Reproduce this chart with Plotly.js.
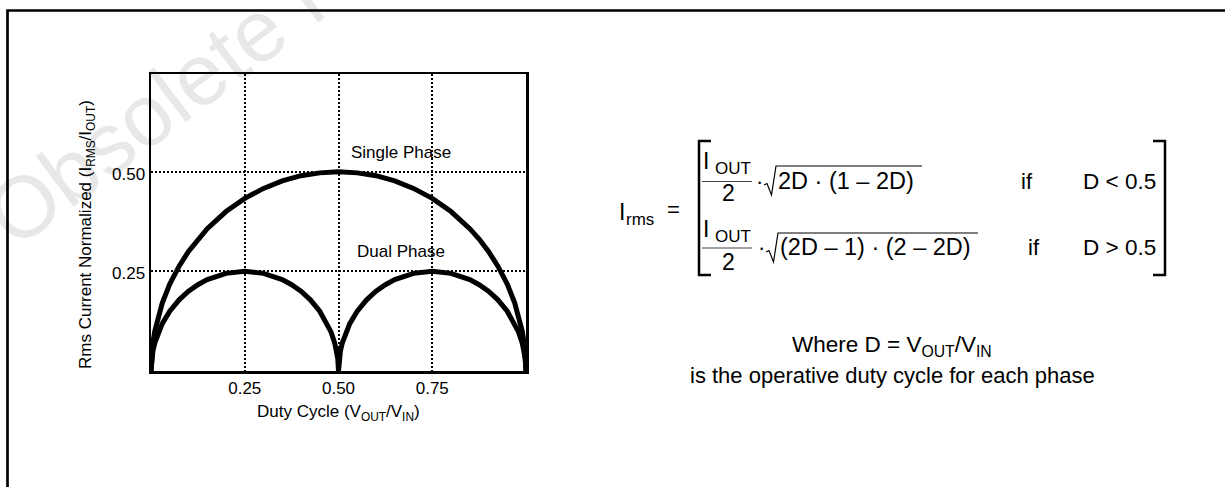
<!DOCTYPE html>
<html>
<head>
<meta charset="utf-8">
<script src="https://cdn.plot.ly/plotly-3.0.1.min.js"></script>
<style>
  html, body { margin: 0; padding: 0; background: #fff; }
  #chart { width: 1225px; height: 487px; }
</style>
</head>
<body>
<div id="chart"></div>
<script>
// ---- data ----
const dutySingle = [0, 0.002, 0.005, 0.01, 0.02, 0.03, 0.05, 0.075, 0.1, 0.125, 0.15, 0.2, 0.25, 0.3, 0.35, 0.4, 0.45, 0.5,
                    0.55, 0.6, 0.65, 0.7, 0.75, 0.8, 0.85, 0.875, 0.9, 0.925, 0.95, 0.97, 0.98, 0.99, 0.995, 0.998, 1];
const singlePhase = [0, 0.0447, 0.0705, 0.0995, 0.14, 0.1706, 0.218, 0.263, 0.3, 0.331, 0.357, 0.4, 0.433, 0.458, 0.477, 0.49, 0.497, 0.5,
                     0.497, 0.49, 0.477, 0.458, 0.433, 0.4, 0.357, 0.331, 0.3, 0.263, 0.218, 0.1706, 0.14, 0.0995, 0.0705, 0.0447, 0];
const dutyDual = [0, 0.002, 0.005, 0.01, 0.02, 0.03, 0.05, 0.075, 0.1, 0.125, 0.15, 0.2, 0.25, 0.3, 0.35, 0.375, 0.4, 0.425, 0.45, 0.47, 0.48, 0.49, 0.495, 0.498, 0.5,
                  0.502, 0.505, 0.51, 0.52, 0.53, 0.55, 0.575, 0.6, 0.625, 0.65, 0.7, 0.75, 0.8, 0.85, 0.875, 0.9, 0.925, 0.95, 0.97, 0.98, 0.99, 0.995, 0.998, 1];
const dualPhase = [0, 0.0316, 0.0497, 0.07, 0.098, 0.1187, 0.15, 0.1785, 0.2, 0.2165, 0.2291, 0.2449, 0.25, 0.2449, 0.2291, 0.2165, 0.2, 0.1785, 0.15, 0.1187, 0.098, 0.07, 0.0497, 0.0316, 0,
                   0.0316, 0.0497, 0.07, 0.098, 0.1187, 0.15, 0.1785, 0.2, 0.2165, 0.2291, 0.2449, 0.25, 0.2449, 0.2291, 0.2165, 0.2, 0.1785, 0.15, 0.1187, 0.098, 0.07, 0.0497, 0.0316, 0];
const xTickVals = [0.25, 0.5, 0.75];
const xTickText = ['0.25', '0.50', '0.75'];
const yTickVals = [0.25, 0.5];
const yTickText = ['0.25', '0.50'];
const seriesNames = ['Single Phase', 'Dual Phase'];

// ---- layout helpers (pixel -> paper) ----
const L = 151, R = 526, T = 74, B = 371;
const PW = R - L, PH = B - T;
const px = x => (x - L) / PW;
const py = y => (B - y) / PH;
const FONT = 'Liberation Sans, Arial, Helvetica, sans-serif';

function ann(text, x, y, size, extra) {
  return Object.assign({
    text: text, xref: 'paper', yref: 'paper', x: px(x), y: py(y),
    xanchor: 'center', yanchor: 'middle', showarrow: false,
    font: { family: FONT, size: size, color: '#000' }
  }, extra || {});
}
function pathShape(points, width, color) {
  const d = points.map((p, i) => (i ? 'L' : 'M') + px(p[0]).toFixed(5) + ',' + py(p[1]).toFixed(5)).join(' ');
  return { type: 'path', xref: 'paper', yref: 'paper', path: d,
           line: { color: color || '#000', width: width } };
}

const traces = [
  { x: dutySingle, y: singlePhase, name: seriesNames[0], mode: 'lines', type: 'scatter',
    line: { color: '#000', width: 5 }, hoverinfo: 'skip' },
  { x: dutyDual, y: dualPhase, name: seriesNames[1], mode: 'lines', type: 'scatter',
    line: { color: '#000', width: 5 }, hoverinfo: 'skip' }
];

const shapes = [
  // outer border (top and left)
  pathShape([[7.5, 487], [7.5, 10.5], [1226, 10.5]], 2.7),
  // brackets
  pathShape([[711, 141], [699, 141], [699, 275], [711, 275]], 2.5),
  pathShape([[1153, 141], [1165, 141], [1165, 275], [1153, 275]], 2.5),
  // fraction bars
  pathShape([[702, 181.5], [752, 181.5]], 1, '#444'),
  pathShape([[702, 248], [752, 248]], 1, '#444'),
  // radicals
  pathShape([[764, 185], [767, 183.5], [771.5, 195], [776, 166], [922, 166]], 1.2),
  pathShape([[766, 252], [769, 250.5], [773.5, 262], [778, 233], [978, 233]], 1.2)
];

const annotations = [
  // watermark
  ann('Obsolete Product(s)', 306, -6, 87, { textangle: -37, font: { family: FONT, size: 87, color: 'rgba(0,0,0,0.09)' } }),
  // series labels
  ann(seriesNames[0], 400.5, 152, 17),
  ann(seriesNames[1], 400.5, 252, 17),
  // axis titles
  ann('Duty Cycle (V<sub>OUT</sub>/V<sub>IN</sub>)', 338.5, 413, 17),
  ann('Rms Current Normalized (I<sub>RMS</sub>/I<sub>OUT</sub>)', 87, 235, 17, { textangle: -90 }),
  // formula: I_rms =
  ann('I', 617, 212, 23, { xanchor: 'left' }),
  ann('rms', 624, 219, 17, { xanchor: 'left' }),
  ann('=', 673, 209, 22),
  // row 1
  ann('I', 701, 161, 23, { xanchor: 'left' }),
  ann('OUT', 713, 168, 17, { xanchor: 'left' }),
  ann('2', 728, 193, 23),
  ann('·', 759, 181, 22),
  ann('2D · (1 – 2D)', 776, 181, 23.5, { xanchor: 'left' }),
  ann('if', 1027, 181, 22),
  ann('D < 0.5', 1158, 181, 22.5, { xanchor: 'right' }),
  // row 2
  ann('I', 701, 229, 23, { xanchor: 'left' }),
  ann('OUT', 713, 236, 17, { xanchor: 'left' }),
  ann('2', 728, 262, 23),
  ann('·', 761, 247, 22),
  ann('(2D – 1) · (2 – 2D)', 778, 247, 23.5, { xanchor: 'left' }),
  ann('if', 1034, 247, 22),
  ann('D > 0.5', 1158, 247, 22.5, { xanchor: 'right' }),
  // explanation
  ann('Where D = V<sub>OUT</sub>/V<sub>IN</sub>', 892, 346, 22.5),
  ann('is the operative duty cycle for each phase', 892, 375, 22)
];

const layout = {
  width: 1225, height: 487,
  margin: { l: L, r: 1225 - R, t: T, b: 487 - B, pad: 0 },
  paper_bgcolor: '#fff', plot_bgcolor: '#fff',
  showlegend: false,
  font: { family: FONT, color: '#000', size: 17 },
  xaxis: {
    range: [0, 1], tickvals: xTickVals, ticktext: xTickText,
    showgrid: true, gridcolor: '#000', gridwidth: 2, griddash: '2px,2px',
    showline: true, mirror: true, linecolor: '#000', linewidth: 2.5,
    zeroline: false, ticks: '', tickfont: { family: FONT, size: 17, color: '#000' },
    fixedrange: true
  },
  yaxis: {
    range: [0, 0.745], tickvals: yTickVals, ticktext: yTickText,
    showgrid: true, gridcolor: '#000', gridwidth: 2, griddash: '2px,2px',
    showline: true, mirror: true, linecolor: '#000', linewidth: 2.5,
    zeroline: false, ticks: '', tickfont: { family: FONT, size: 17, color: '#000' },
    ticklabelshift: 2, ticklabelstandoff: 0,
    fixedrange: true
  },
  shapes: shapes,
  annotations: annotations
};

Plotly.newPlot('chart', traces, layout, { displayModeBar: false, staticPlot: true });
</script>
</body>
</html>
